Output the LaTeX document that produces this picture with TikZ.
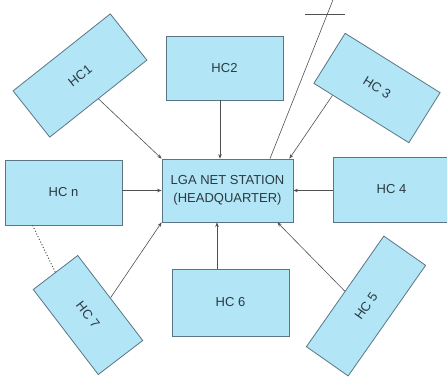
\documentclass[tikz,border=0pt]{standalone}
\usepackage{fontspec}
\setmainfont{Liberation Sans}
\usetikzlibrary{arrows.meta,calc}
\definecolor{boxfill}{HTML}{B2E5F5}
\definecolor{boxline}{HTML}{5A7684}
\definecolor{linecol}{HTML}{505050}
\definecolor{txt}{HTML}{2B3A42}
\begin{document}
\begin{tikzpicture}[x=1pt,y=-1pt,
  hcbox/.style={draw=boxline, fill=boxfill, line width=0.8pt, text=txt,
    font=\fontsize{13}{17.5}\selectfont, inner sep=0pt, align=center},
  arr/.style={draw=linecol, line width=0.6pt, -{Stealth[length=4.5pt,width=3.5pt]}},
  plain/.style={draw=linecol, line width=0.6pt}]
\useasboundingbox (0,0) rectangle (447,381);
\node[hcbox, minimum width=131pt, minimum height=63pt] (c) at (227.5,190.5) {LGA NET STATION\\(HEADQUARTER)};
\node[hcbox, minimum width=124pt, minimum height=59pt, rotate=38.4] (hc1) at (80,75.5) {HC1};
\node[hcbox, minimum width=117pt, minimum height=64pt] (hc2) at (224.5,68) {HC2};
\node[hcbox, minimum width=112pt, minimum height=59pt, rotate=-32] (hc3) at (377,88) {HC 3};
\node[hcbox, minimum width=117pt, minimum height=65pt] (hc4) at (391.5,189.5) {HC 4};
\node[hcbox, minimum width=135pt, minimum height=51pt, rotate=55] (hc5) at (366,306) {HC 5};
\node[hcbox, minimum width=117pt, minimum height=67pt] (hc6) at (230.5,302.5) {HC 6};
\node[hcbox, minimum width=107pt, minimum height=56pt, rotate=-52.6] (hc7) at (88,315) {HC 7};
\node[hcbox, minimum width=117pt, minimum height=65pt] (hcn) at (63.5,192.5) {HC n};
\coordinate (antop) at (334.5,-4);
\coordinate (crossL) at (305,14);
\coordinate (crossR) at (345,14);
\draw[arr] (hc1.south) -- (c.north west);
\draw[arr] ([xshift=-4.5pt]hc2.south) -- ([xshift=-7.5pt]c.north);
\draw[arr] ($(hc3.south west)!0.2!(hc3.south east)$) -- ([xshift=-4pt]c.north east);
\draw[arr] (hc4.west |- c.east) -- (c.east);
\draw[arr] (hcn.east |- c.west) -- (c.west);
\draw[arr] (hc7.north) -- (c.south west);
\draw[arr] ([xshift=-13.5pt]hc6.north) -- ([xshift=-10.5pt]c.south);
\draw[arr] (hc5.north) -- ([xshift=-16pt]c.south east);
\draw[draw=linecol, line width=1pt, dotted] ([xshift=28pt]hcn.south west) -- (hc7.west);
\draw[plain] ([xshift=42.5pt]c.north) -- (antop);
\draw[plain] (crossL) -- (crossR);
\end{tikzpicture}
\end{document}
